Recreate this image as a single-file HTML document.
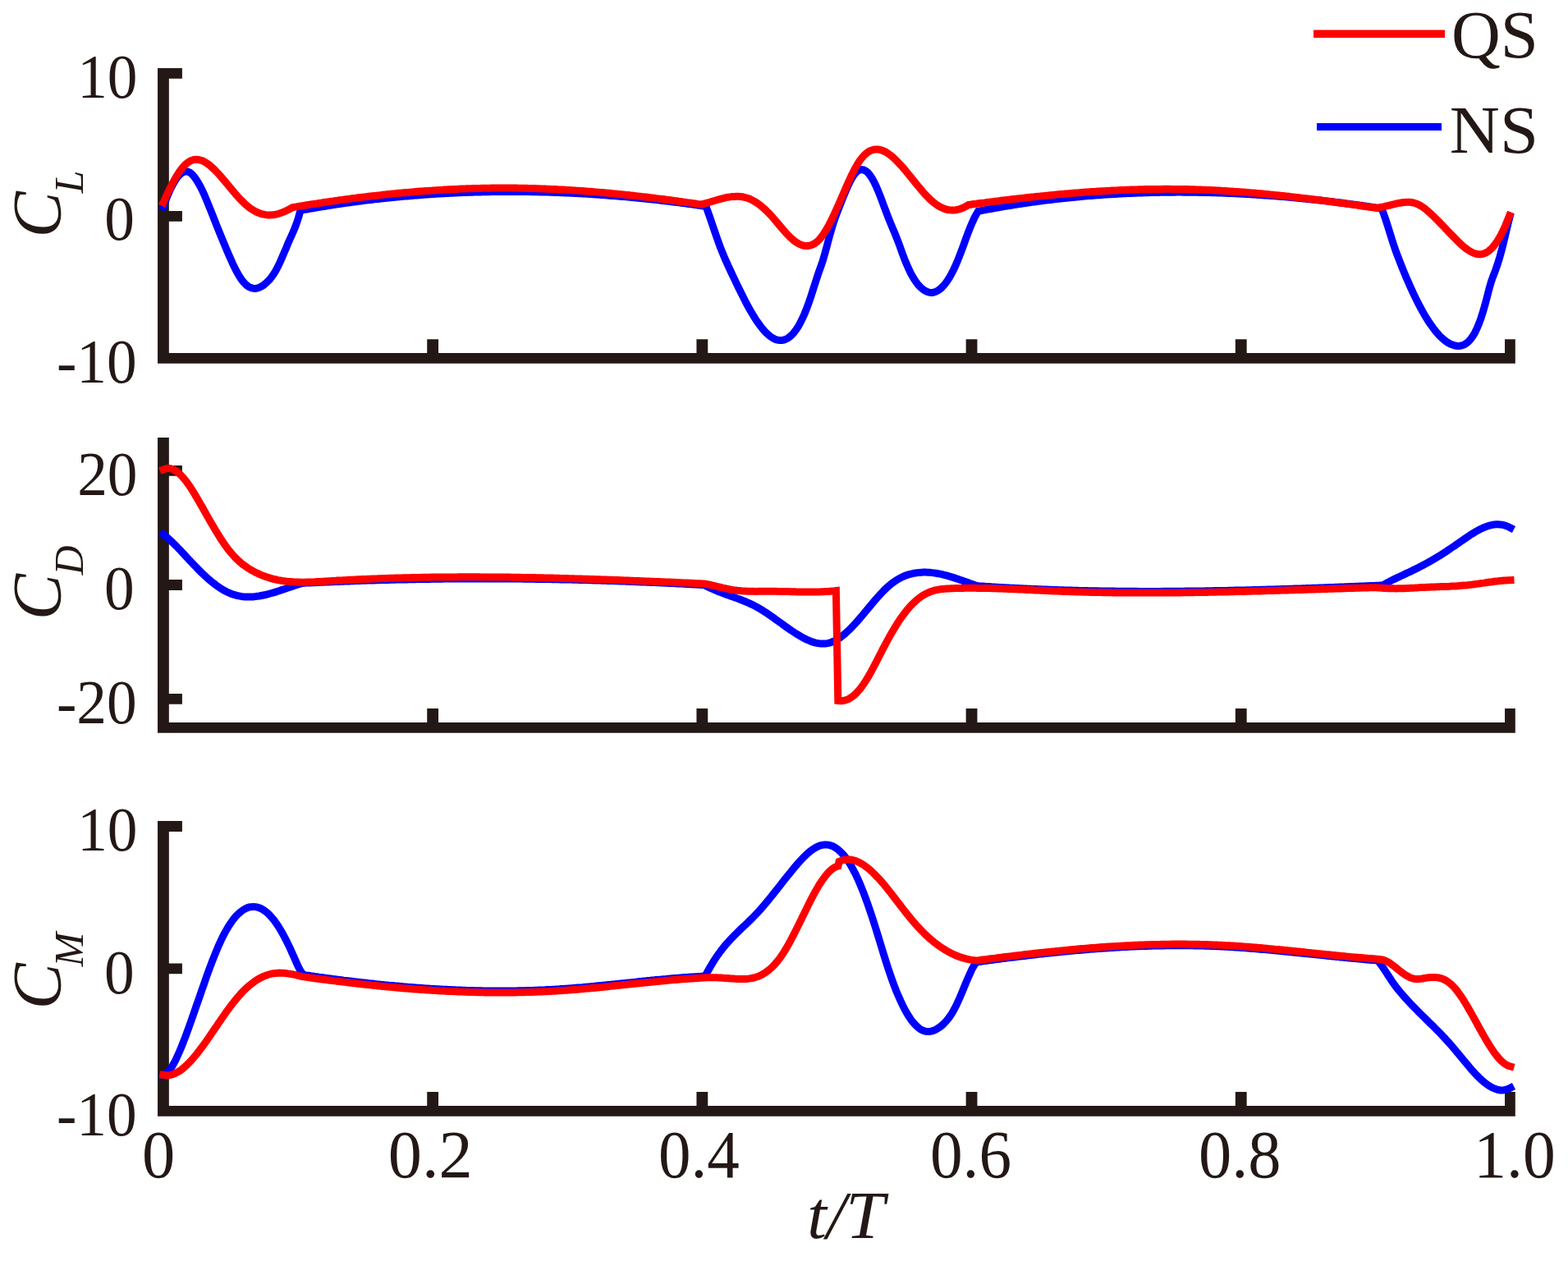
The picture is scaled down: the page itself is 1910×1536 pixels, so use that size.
<!DOCTYPE html>
<html lang="en"><head><meta charset="utf-8"><title>Force coefficients: QS vs NS</title>
<style>html,body{margin:0;padding:0;background:#fff}body{width:1910px;height:1536px;overflow:hidden}svg{display:block}text{font-family:"Liberation Serif","Times New Roman",serif;fill:#231815}.it{font-style:italic}.c{fill:none;stroke-width:9;stroke-linecap:square;stroke-linejoin:miter}</style>
</head><body>
<svg xmlns="http://www.w3.org/2000/svg" width="1910" height="1536" viewBox="0 0 1910 1536">
<rect width="1910" height="1536" fill="#fff"/>
<g>
<path d="M192.03 83H205.83V442.85H192.03ZM192.03 430.05H1845.8V442.85H192.03ZM198.93 83H221.9V95.8H198.93ZM198.93 257H221.9V269.8H198.93ZM520.23 413.15H534.03V436.45H520.23ZM848.44 413.15H862.24V436.45H848.44ZM1176.64 413.15H1190.44V436.45H1176.64ZM1504.85 413.15H1518.65V436.45H1504.85ZM1833.05 413.15H1845.8V436.45H1833.05Z" fill="#231815"/>
<path class="c" stroke="#0000ff" d="M199 251.8L201.5 245L204 238.7L206.5 232.9L209 227.6L211.5 223L214 218.9L216.4 215.5L218.9 212.7L221.4 210.7L223.9 209.4L226.4 208.8L228.9 209.1L231.4 210.2L233.9 212.2L236.4 215.1L238.9 218.6L241.4 222.6L243.9 227L246.4 231.9L248.9 237.3L251.3 243.1L253.8 249.2L256.3 255.4L258.8 261.7L261.3 268L263.8 274.3L266.3 280.5L268.8 286.7L271.3 292.8L273.8 298.8L276.3 304.8L278.8 310.6L281.3 316.2L283.7 321.7L286.2 326.8L288.7 331.6L291.2 335.9L293.7 339.8L296.2 343.1L298.7 345.9L301.2 348.1L303.7 349.7L306.2 350.7L308.7 351.3L311.2 351.4L313.7 351L316.1 350.1L318.6 348.9L321.1 347.3L323.6 345.2L326.1 342.9L328.6 340.2L331.1 337.1L333.6 333.5L336.1 329.4L338.6 324.6L341.1 319.3L343.6 313.7L346.1 307.8L348.6 301.9L351 296.1L353.5 290.5L356 285L358.5 279.2L361 272.8L363.5 265.3L366 256.3L368.5 255.8L371 255.4L373.5 255L376 254.5L378.5 254.1L381 253.7L383.5 253.2L386 252.8L388.5 252.4L390.9 252L393.4 251.6L395.9 251.2L398.4 250.8L400.9 250.4L403.4 250L405.9 249.6L408.4 249.2L410.9 248.9L413.4 248.5L415.9 248.1L418.4 247.8L420.9 247.4L423.4 247.1L425.9 246.7L428.4 246.4L430.9 246L433.4 245.7L435.9 245.4L438.4 245.1L440.8 244.7L443.3 244.4L445.8 244.1L448.3 243.8L450.8 243.5L453.3 243.2L455.8 242.9L458.3 242.6L460.8 242.4L463.3 242.1L465.8 241.8L468.3 241.5L470.8 241.3L473.3 241L475.8 240.8L478.3 240.5L480.8 240.3L483.3 240L485.8 239.8L488.3 239.6L490.7 239.3L493.2 239.1L495.7 238.9L498.2 238.7L500.7 238.5L503.2 238.2L505.7 238L508.2 237.9L510.7 237.7L513.2 237.5L515.7 237.3L518.2 237.1L520.7 236.9L523.2 236.8L525.7 236.6L528.2 236.4L530.7 236.3L533.2 236.1L535.7 236L538.2 235.8L540.6 235.7L543.1 235.5L545.6 235.4L548.1 235.3L550.6 235.2L553.1 235L555.6 234.9L558.1 234.8L560.6 234.7L563.1 234.6L565.6 234.5L568.1 234.4L570.6 234.3L573.1 234.3L575.6 234.2L578.1 234.1L580.6 234L583.1 234L585.6 233.9L588.1 233.8L590.5 233.8L593 233.7L595.5 233.7L598 233.6L600.5 233.6L603 233.6L605.5 233.5L608 233.5L610.5 233.5L613 233.5L615.5 233.5L618 233.5L620.5 233.4L623 233.4L625.5 233.4L628 233.5L630.5 233.5L633 233.5L635.5 233.5L637.9 233.5L640.4 233.6L642.9 233.6L645.4 233.6L647.9 233.7L650.4 233.7L652.9 233.8L655.4 233.8L657.9 233.9L660.4 233.9L662.9 234L665.4 234.1L667.9 234.1L670.4 234.2L672.9 234.3L675.4 234.4L677.9 234.5L680.4 234.6L682.9 234.7L685.4 234.8L687.8 234.9L690.3 235L692.8 235.1L695.3 235.2L697.8 235.3L700.3 235.4L702.8 235.6L705.3 235.7L707.8 235.8L710.3 236L712.8 236.1L715.3 236.3L717.8 236.4L720.3 236.6L722.8 236.7L725.3 236.9L727.8 237.1L730.3 237.3L732.8 237.4L735.3 237.6L737.7 237.8L740.2 238L742.7 238.2L745.2 238.4L747.7 238.6L750.2 238.8L752.7 239L755.2 239.2L757.7 239.4L760.2 239.6L762.7 239.8L765.2 240.1L767.7 240.3L770.2 240.5L772.7 240.8L775.2 241L777.7 241.2L780.2 241.5L782.7 241.7L785.2 242L787.6 242.3L790.1 242.5L792.6 242.8L795.1 243.1L797.6 243.3L800.1 243.6L802.6 243.9L805.1 244.2L807.6 244.5L810.1 244.8L812.6 245.1L815.1 245.4L817.6 245.7L820.1 246L822.6 246.3L825.1 246.6L827.6 246.9L830.1 247.2L832.6 247.6L835.1 247.9L837.5 248.2L840 248.6L842.5 248.9L845 249.3L847.5 249.6L850 250L852.5 250.3L855 250.7L857.5 251L860 251.4L862.5 258.4L865 265.6L867.5 272.9L870 280.2L872.5 287.5L875 294.5L877.4 301.1L879.9 307.4L882.4 313.4L884.9 319.1L887.4 324.6L889.9 330L892.4 335.3L894.9 340.6L897.4 345.9L899.9 351L902.4 356.1L904.9 361.1L907.4 366L909.8 370.7L912.3 375.2L914.8 379.6L917.3 383.8L919.8 387.9L922.3 391.7L924.8 395.2L927.3 398.5L929.8 401.6L932.3 404.4L934.8 406.8L937.3 409L939.8 410.8L942.3 412.3L944.7 413.5L947.2 414.2L949.7 414.6L952.2 414.6L954.7 414.1L957.2 413.2L959.7 411.9L962.2 410L964.7 407.8L967.2 405L969.7 401.7L972.2 397.9L974.7 393.5L977.1 388.6L979.6 383.1L982.1 377.1L984.6 370.4L987.1 363.2L989.6 355.5L992.1 347.6L994.6 339.8L997.1 332.3L999.6 325.4L1002.1 318.2L1004.6 309.6L1007.1 300.3L1009.5 291.2L1012 282.3L1014.5 273.7L1017 266L1019.5 259.4L1022 253.1L1024.5 246.7L1027 240.4L1029.5 234.2L1032 228.4L1034.5 223L1037 218.2L1039.5 214.1L1042 210.8L1044.4 208.5L1046.9 207L1049.4 206.5L1051.9 206.9L1054.4 208.1L1056.9 210.1L1059.4 213L1061.9 216.7L1064.4 221.1L1066.9 226.2L1069.4 231.9L1071.9 238.1L1074.4 244.6L1076.8 251.2L1079.3 257.8L1081.8 264.4L1084.3 270.7L1086.8 276.7L1089.3 282.6L1091.8 288.7L1094.3 295.1L1096.8 302.1L1099.3 309.1L1101.8 315.7L1104.3 321.7L1106.8 327.3L1109.2 332.4L1111.7 336.9L1114.2 341L1116.7 344.6L1119.2 347.7L1121.7 350.3L1124.2 352.5L1126.7 354.1L1129.2 355.4L1131.7 356.1L1134.2 356.4L1136.7 356.2L1139.2 355.5L1141.7 354.4L1144.1 352.8L1146.6 350.8L1149.1 348.3L1151.6 345.3L1154.1 341.8L1156.6 337.9L1159.1 333.4L1161.6 328.5L1164.1 323.1L1166.6 317.2L1169.1 310.9L1171.6 304.3L1174.1 297.6L1176.5 290.8L1179 284.2L1181.5 277.8L1184 271.8L1186.5 266.3L1189 261.4L1191.5 257.3L1194 256.8L1196.5 256.3L1199 255.9L1201.5 255.4L1204 254.9L1206.5 254.5L1209 254L1211.5 253.6L1214 253.1L1216.4 252.7L1218.9 252.2L1221.4 251.8L1223.9 251.4L1226.4 251L1228.9 250.6L1231.4 250.2L1233.9 249.8L1236.4 249.4L1238.9 249L1241.4 248.6L1243.9 248.2L1246.4 247.8L1248.9 247.5L1251.4 247.1L1253.9 246.8L1256.4 246.4L1258.9 246.1L1261.4 245.7L1263.9 245.4L1266.3 245L1268.8 244.7L1271.3 244.4L1273.8 244.1L1276.3 243.8L1278.8 243.5L1281.3 243.2L1283.8 242.9L1286.3 242.6L1288.8 242.3L1291.3 242L1293.8 241.7L1296.3 241.5L1298.8 241.2L1301.3 241L1303.8 240.7L1306.3 240.4L1308.8 240.2L1311.3 240L1313.8 239.7L1316.2 239.5L1318.7 239.3L1321.2 239.1L1323.7 238.8L1326.2 238.6L1328.7 238.4L1331.2 238.2L1333.7 238L1336.2 237.8L1338.7 237.7L1341.2 237.5L1343.7 237.3L1346.2 237.1L1348.7 237L1351.2 236.8L1353.7 236.7L1356.2 236.5L1358.7 236.4L1361.2 236.2L1363.6 236.1L1366.1 235.9L1368.6 235.8L1371.1 235.7L1373.6 235.6L1376.1 235.5L1378.6 235.4L1381.1 235.3L1383.6 235.2L1386.1 235.1L1388.6 235L1391.1 234.9L1393.6 234.8L1396.1 234.7L1398.6 234.7L1401.1 234.6L1403.6 234.5L1406.1 234.5L1408.6 234.4L1411.1 234.4L1413.5 234.3L1416 234.3L1418.5 234.3L1421 234.2L1423.5 234.2L1426 234.2L1428.5 234.2L1431 234.2L1433.5 234.1L1436 234.1L1438.5 234.1L1441 234.2L1443.5 234.2L1446 234.2L1448.5 234.2L1451 234.2L1453.5 234.2L1456 234.3L1458.5 234.3L1461 234.4L1463.4 234.4L1465.9 234.5L1468.4 234.5L1470.9 234.6L1473.4 234.6L1475.9 234.7L1478.4 234.8L1480.9 234.8L1483.4 234.9L1485.9 235L1488.4 235.1L1490.9 235.2L1493.4 235.3L1495.9 235.4L1498.4 235.5L1500.9 235.6L1503.4 235.7L1505.9 235.8L1508.4 235.9L1510.9 236.1L1513.3 236.2L1515.8 236.3L1518.3 236.5L1520.8 236.6L1523.3 236.8L1525.8 236.9L1528.3 237.1L1530.8 237.2L1533.3 237.4L1535.8 237.5L1538.3 237.7L1540.8 237.9L1543.3 238.1L1545.8 238.3L1548.3 238.4L1550.8 238.6L1553.3 238.8L1555.8 239L1558.3 239.2L1560.7 239.4L1563.2 239.6L1565.7 239.8L1568.2 240.1L1570.7 240.3L1573.2 240.5L1575.7 240.7L1578.2 241L1580.7 241.2L1583.2 241.4L1585.7 241.7L1588.2 241.9L1590.7 242.2L1593.2 242.4L1595.7 242.7L1598.2 243L1600.7 243.2L1603.2 243.5L1605.7 243.8L1608.2 244L1610.6 244.3L1613.1 244.6L1615.6 244.9L1618.1 245.2L1620.6 245.5L1623.1 245.8L1625.6 246.1L1628.1 246.4L1630.6 246.7L1633.1 247L1635.6 247.3L1638.1 247.6L1640.6 248L1643.1 248.3L1645.6 248.6L1648.1 249L1650.6 249.3L1653.1 249.6L1655.6 250L1658.1 250.3L1660.5 250.7L1663 251L1665.5 251.4L1668 251.8L1670.5 252.1L1673 252.5L1675.5 252.9L1678 253.2L1680.5 253.6L1683 254L1685.5 260.5L1688 267.8L1690.6 275.8L1693.1 283.9L1695.6 292L1698.1 299.7L1700.6 306.9L1703.2 313.7L1705.7 320.2L1708.2 326.5L1710.7 332.6L1713.2 338.6L1715.8 344.4L1718.3 350.1L1720.8 355.6L1723.3 360.9L1725.8 366L1728.3 371L1730.9 375.7L1733.4 380.3L1735.9 384.7L1738.4 388.8L1740.9 392.7L1743.5 396.4L1746 399.9L1748.5 403.1L1751 406.1L1753.5 408.9L1756.1 411.4L1758.6 413.6L1761.1 415.6L1763.6 417.3L1766.1 418.7L1768.7 419.8L1771.2 420.6L1773.7 421.2L1776.2 421.4L1778.7 421.2L1781.3 420.7L1783.8 419.7L1786.3 418.1L1788.8 416L1791.3 413.2L1793.9 409.7L1796.4 405.5L1798.9 400.4L1801.4 394.5L1803.9 387.7L1806.4 379.9L1809 371.1L1811.5 361.3L1814 351.6L1816.5 343L1819 336L1821.6 329.3L1824.1 322L1826.6 314L1829.1 305L1831.6 295.1L1834.2 284.2L1836.7 273.4L1839.2 263.8"/>
<path class="c" stroke="#ff0000" d="M199 246.8L201.5 241.2L204 235.7L206.5 230.5L209 225.5L211.5 220.8L214 216.4L216.5 212.3L218.9 208.6L221.4 205.3L223.9 202.4L226.4 199.9L228.9 197.9L231.4 196.3L233.9 195.2L236.4 194.5L238.9 194.3L241.4 194.4L243.9 195L246.4 195.8L248.9 197L251.4 198.5L253.9 200.2L256.4 202.2L258.8 204.4L261.3 206.8L263.8 209.3L266.3 212L268.8 214.8L271.3 217.7L273.8 220.7L276.3 223.7L278.8 226.7L281.3 229.7L283.8 232.7L286.3 235.6L288.8 238.5L291.3 241.2L293.8 243.8L296.3 246.3L298.7 248.7L301.2 250.8L303.7 252.8L306.2 254.6L308.7 256.2L311.2 257.6L313.7 258.8L316.2 259.8L318.7 260.6L321.2 261.2L323.7 261.6L326.2 261.9L328.7 261.9L331.2 261.8L333.7 261.5L336.2 261.1L338.6 260.5L341.1 259.8L343.6 258.9L346.1 257.9L348.6 256.8L351.1 255.5L353.6 254.2L356.1 252.7L358.6 252.3L361.1 251.9L363.6 251.4L366.1 251L368.6 250.6L371.1 250.2L373.6 249.8L376.1 249.4L378.6 249L381.1 248.6L383.6 248.2L386.1 247.9L388.7 247.5L391.2 247.1L393.7 246.7L396.2 246.3L398.7 246L401.2 245.6L403.7 245.2L406.2 244.9L408.7 244.5L411.2 244.2L413.7 243.8L416.2 243.5L418.7 243.1L421.2 242.8L423.7 242.5L426.2 242.1L428.7 241.8L431.2 241.5L433.7 241.2L436.2 240.8L438.7 240.5L441.2 240.2L443.7 239.9L446.2 239.6L448.7 239.3L451.3 239L453.8 238.7L456.3 238.4L458.8 238.2L461.3 237.9L463.8 237.6L466.3 237.3L468.8 237.1L471.3 236.8L473.8 236.5L476.3 236.3L478.8 236L481.3 235.8L483.8 235.5L486.3 235.3L488.8 235.1L491.3 234.8L493.8 234.6L496.3 234.4L498.8 234.2L501.3 234L503.8 233.8L506.3 233.5L508.8 233.3L511.3 233.1L513.9 233L516.4 232.8L518.9 232.6L521.4 232.4L523.9 232.2L526.4 232.1L528.9 231.9L531.4 231.7L533.9 231.6L536.4 231.4L538.9 231.3L541.4 231.1L543.9 231L546.4 230.8L548.9 230.7L551.4 230.6L553.9 230.5L556.4 230.4L558.9 230.2L561.4 230.1L563.9 230L566.4 229.9L568.9 229.8L571.4 229.8L573.9 229.7L576.5 229.6L579 229.5L581.5 229.5L584 229.4L586.5 229.3L589 229.3L591.5 229.2L594 229.2L596.5 229.2L599 229.1L601.5 229.1L604 229.1L606.5 229.1L609 229L611.5 229L614 229L616.5 229L619 229L621.5 229.1L624 229.1L626.5 229.1L629 229.1L631.5 229.2L634 229.2L636.6 229.2L639.1 229.3L641.6 229.3L644.1 229.4L646.6 229.5L649.1 229.5L651.6 229.6L654.1 229.7L656.6 229.8L659.1 229.9L661.6 230L664.1 230.1L666.6 230.2L669.1 230.3L671.6 230.4L674.1 230.5L676.6 230.6L679.1 230.7L681.6 230.9L684.1 231L686.6 231.1L689.1 231.3L691.6 231.4L694.1 231.6L696.6 231.7L699.2 231.9L701.7 232.1L704.2 232.2L706.7 232.4L709.2 232.6L711.7 232.8L714.2 233L716.7 233.2L719.2 233.3L721.7 233.5L724.2 233.8L726.7 234L729.2 234.2L731.7 234.4L734.2 234.6L736.7 234.8L739.2 235.1L741.7 235.3L744.2 235.5L746.7 235.8L749.2 236L751.7 236.2L754.2 236.5L756.7 236.7L759.2 237L761.8 237.3L764.3 237.5L766.8 237.8L769.3 238.1L771.8 238.3L774.3 238.6L776.8 238.9L779.3 239.2L781.8 239.5L784.3 239.7L786.8 240L789.3 240.3L791.8 240.6L794.3 240.9L796.8 241.2L799.3 241.6L801.8 241.9L804.3 242.2L806.8 242.5L809.3 242.8L811.8 243.2L814.3 243.5L816.8 243.8L819.3 244.1L821.8 244.5L824.4 244.8L826.9 245.2L829.4 245.5L831.9 245.9L834.4 246.2L836.9 246.6L839.4 246.9L841.9 247.3L844.4 247.6L846.9 248L849.4 248.4L851.9 248.7L854.4 249.1L856.9 248.4L859.4 247.7L861.9 247L864.4 246.3L866.9 245.5L869.4 244.7L871.9 244L874.4 243.2L876.9 242.5L879.4 241.9L881.9 241.3L884.4 240.7L886.9 240.2L889.4 239.9L891.9 239.6L894.4 239.4L896.9 239.3L899.4 239.3L901.9 239.5L904.4 239.8L906.9 240.3L909.4 241L911.9 241.8L914.4 242.8L916.9 244.1L919.4 245.5L921.9 247.1L924.4 248.8L926.9 250.8L929.4 252.9L931.9 255.1L934.4 257.6L937 260.1L939.5 262.8L942 265.6L944.5 268.6L947 271.5L949.5 274.5L952 277.5L954.5 280.4L957 283.3L959.5 286L962 288.5L964.5 290.8L967 293L969.5 294.8L972 296.4L974.5 297.7L977 298.6L979.5 299.3L982 299.6L984.5 299.5L987 299L989.5 298.1L992 296.8L994.5 295L997 292.7L999.5 290L1002 286.7L1004.5 283L1007 278.9L1009.5 274.4L1012 269.6L1014.5 264.5L1017 259.2L1019.5 253.7L1022 248.1L1024.5 242.3L1027 236.5L1029.5 230.8L1032 225.1L1034.5 219.6L1037 214.2L1039.5 209.1L1042 204.4L1044.5 200L1047 196.1L1049.5 192.7L1052 189.8L1054.5 187.4L1057 185.4L1059.5 183.9L1062 182.9L1064.5 182.2L1067 181.9L1069.5 182L1072 182.4L1074.5 183.2L1077 184.2L1079.5 185.5L1082 187.1L1084.5 189L1087 191L1089.5 193.3L1092 195.7L1094.5 198.3L1097 201L1099.6 203.8L1102.1 206.7L1104.6 209.8L1107.1 212.8L1109.6 215.9L1112.1 219L1114.6 222.1L1117.1 225.2L1119.6 228.2L1122.1 231.2L1124.6 234.1L1127.1 236.9L1129.6 239.5L1132.1 242L1134.6 244.4L1137.1 246.5L1139.6 248.5L1142.1 250.2L1144.6 251.7L1147.1 253L1149.6 254L1152.1 254.9L1154.6 255.5L1157.1 255.8L1159.6 256L1162.1 255.9L1164.6 255.7L1167.1 255.2L1169.6 254.5L1172.1 253.5L1174.6 252.4L1177.1 251.1L1179.6 249.5L1182.1 249.2L1184.6 248.8L1187.1 248.5L1189.6 248.2L1192.1 247.8L1194.6 247.5L1197.1 247.2L1199.6 246.9L1202.1 246.5L1204.6 246.2L1207.1 245.9L1209.6 245.6L1212.1 245.3L1214.6 245L1217.1 244.7L1219.6 244.3L1222.2 244L1224.7 243.7L1227.2 243.4L1229.7 243.1L1232.2 242.8L1234.7 242.6L1237.2 242.3L1239.7 242L1242.2 241.7L1244.7 241.4L1247.2 241.1L1249.7 240.8L1252.2 240.6L1254.7 240.3L1257.2 240L1259.7 239.8L1262.2 239.5L1264.7 239.2L1267.2 239L1269.7 238.7L1272.2 238.5L1274.7 238.2L1277.2 238L1279.7 237.7L1282.2 237.5L1284.7 237.3L1287.2 237L1289.7 236.8L1292.2 236.6L1294.7 236.4L1297.2 236.1L1299.7 235.9L1302.2 235.7L1304.8 235.5L1307.3 235.3L1309.8 235.1L1312.3 234.9L1314.8 234.7L1317.3 234.5L1319.8 234.3L1322.3 234.1L1324.8 234L1327.3 233.8L1329.8 233.6L1332.3 233.4L1334.8 233.3L1337.3 233.1L1339.8 233L1342.3 232.8L1344.8 232.7L1347.3 232.5L1349.8 232.4L1352.3 232.2L1354.8 232.1L1357.3 232L1359.8 231.9L1362.3 231.7L1364.8 231.6L1367.3 231.5L1369.8 231.4L1372.3 231.3L1374.8 231.2L1377.3 231.1L1379.8 231L1382.3 231L1384.8 230.9L1387.4 230.8L1389.9 230.8L1392.4 230.7L1394.9 230.6L1397.4 230.6L1399.9 230.5L1402.4 230.5L1404.9 230.5L1407.4 230.4L1409.9 230.4L1412.4 230.4L1414.9 230.4L1417.4 230.3L1419.9 230.3L1422.4 230.3L1424.9 230.3L1427.4 230.4L1429.9 230.4L1432.4 230.4L1434.9 230.4L1437.4 230.4L1439.9 230.5L1442.4 230.5L1444.9 230.6L1447.4 230.6L1449.9 230.7L1452.4 230.8L1454.9 230.8L1457.4 230.9L1459.9 231L1462.4 231.1L1464.9 231.2L1467.4 231.3L1470 231.4L1472.5 231.5L1475 231.6L1477.5 231.7L1480 231.8L1482.5 232L1485 232.1L1487.5 232.2L1490 232.4L1492.5 232.5L1495 232.7L1497.5 232.9L1500 233L1502.5 233.2L1505 233.4L1507.5 233.5L1510 233.7L1512.5 233.9L1515 234.1L1517.5 234.3L1520 234.5L1522.5 234.7L1525 234.9L1527.5 235.1L1530 235.3L1532.5 235.6L1535 235.8L1537.5 236L1540 236.3L1542.5 236.5L1545 236.7L1547.5 237L1550 237.2L1552.6 237.5L1555.1 237.7L1557.6 238L1560.1 238.3L1562.6 238.5L1565.1 238.8L1567.6 239.1L1570.1 239.3L1572.6 239.6L1575.1 239.9L1577.6 240.2L1580.1 240.5L1582.6 240.8L1585.1 241.1L1587.6 241.4L1590.1 241.7L1592.6 242L1595.1 242.3L1597.6 242.6L1600.1 242.9L1602.6 243.2L1605.1 243.5L1607.6 243.8L1610.1 244.2L1612.6 244.5L1615.1 244.8L1617.6 245.1L1620.1 245.5L1622.6 245.8L1625.1 246.1L1627.6 246.5L1630.1 246.8L1632.6 247.2L1635.2 247.5L1637.7 247.8L1640.2 248.2L1642.7 248.5L1645.2 248.9L1647.7 249.2L1650.2 249.6L1652.7 249.9L1655.2 250.3L1657.7 250.7L1660.2 251L1662.7 251.4L1665.2 251.7L1667.7 252.1L1670.2 252.5L1672.7 252.8L1675.2 253.2L1677.7 253L1680.2 252.7L1682.7 252.3L1685.3 251.8L1687.8 251.2L1690.3 250.7L1692.8 250L1695.3 249.4L1697.8 248.8L1700.3 248.2L1702.9 247.7L1705.4 247.2L1707.9 246.8L1710.4 246.4L1712.9 246.2L1715.4 246.2L1717.9 246.3L1720.5 246.7L1723 247.3L1725.5 248.1L1728 249.3L1730.5 250.7L1733 252.3L1735.6 254.1L1738.1 256.1L1740.6 258.3L1743.1 260.6L1745.6 262.9L1748.1 265.4L1750.6 267.9L1753.2 270.5L1755.7 273.1L1758.2 275.7L1760.7 278.3L1763.2 281L1765.7 283.6L1768.2 286.2L1770.8 288.8L1773.3 291.4L1775.8 293.9L1778.3 296.3L1780.8 298.6L1783.3 300.8L1785.8 302.8L1788.4 304.6L1790.9 306.2L1793.4 307.5L1795.9 308.6L1798.4 309.3L1800.9 309.7L1803.4 309.7L1806 309.4L1808.5 308.6L1811 307.4L1813.5 305.7L1816 303.5L1818.5 300.9L1821 297.8L1823.6 294.2L1826.1 290.1L1828.6 285.6L1831.1 280.6L1833.6 275.1L1836.1 269.1L1838.7 262.6"/>
<text transform="translate(94.15 118.7) scale(0.96 1)" font-size="76.4">10</text>
<text transform="translate(127.32 291.6) scale(0.96 1)" font-size="76.4">0</text>
<text transform="translate(68.93 465.8) scale(0.96 1)" font-size="76.4">-10</text>
<text class="it" transform="translate(74.2 289.4) rotate(-90)" font-size="84.3">C</text>
<text class="it" transform="translate(101.2 235.5) rotate(-90)" font-size="50">L</text>
</g>
<g>
<path d="M192.03 532.9H205.83V892.8H192.03ZM192.03 880H1845.8V892.8H192.03ZM198.93 566.95H221.9V579.75H198.93ZM198.93 706.1H221.9V718.9H198.93ZM198.93 845H221.9V857.8H198.93ZM520.23 863.1H534.03V886.4H520.23ZM848.44 863.1H862.24V886.4H848.44ZM1176.64 863.1H1190.44V886.4H1176.64ZM1504.85 863.1H1518.65V886.4H1504.85ZM1833.05 863.1H1845.8V886.4H1833.05Z" fill="#231815"/>
<path class="c" stroke="#0000ff" d="M199 651L201.5 653L204 655.1L206.5 657.3L208.9 659.6L211.4 662L213.9 664.4L216.4 667L218.9 669.5L221.4 672.2L223.9 674.8L226.3 677.5L228.8 680.2L231.3 682.8L233.8 685.5L236.3 688.1L238.8 690.7L241.2 693.3L243.7 695.8L246.2 698.2L248.7 700.6L251.2 702.9L253.7 705.1L256.2 707.2L258.6 709.3L261.1 711.2L263.6 713.1L266.1 714.9L268.6 716.5L271.1 718.1L273.6 719.5L276 720.8L278.5 722L281 723L283.5 723.9L286 724.7L288.5 725.4L291 725.9L293.4 726.4L295.9 726.7L298.4 726.9L300.9 727L303.4 727.1L305.9 727L308.4 726.9L310.8 726.6L313.3 726.3L315.8 726L318.3 725.5L320.8 725L323.3 724.5L325.8 723.9L328.2 723.2L330.7 722.5L333.2 721.8L335.7 721.1L338.2 720.3L340.7 719.5L343.1 718.6L345.6 717.8L348.1 716.9L350.6 716.1L353.1 715.2L355.6 714.4L358.1 713.5L360.5 712.7L363 711.9L365.5 711.1L368 710.4L370.5 710.3L373 710.1L375.5 710L378 709.9L380.5 709.8L383 709.7L385.5 709.5L388 709.4L390.5 709.3L393 709.2L395.5 709.1L398 709L400.5 708.9L403 708.8L405.5 708.7L408 708.6L410.5 708.5L413 708.4L415.5 708.3L418 708.2L420.5 708.1L423 708L425.5 707.9L428 707.8L430.5 707.7L433 707.6L435.5 707.5L438 707.4L440.5 707.3L443 707.3L445.5 707.2L448 707.1L450.5 707L453 706.9L455.5 706.9L458 706.8L460.5 706.7L463 706.6L465.5 706.6L468 706.5L470.5 706.4L473 706.4L475.5 706.3L478 706.3L480.5 706.2L483 706.1L485.5 706.1L488 706L490.5 706L493 705.9L495.5 705.9L498 705.8L500.5 705.7L503 705.7L505.5 705.7L508 705.6L510.5 705.6L513 705.5L515.5 705.5L518 705.4L520.5 705.4L523 705.4L525.5 705.3L528 705.3L530.5 705.3L533 705.2L535.5 705.2L538 705.2L540.5 705.1L543 705.1L545.5 705.1L548 705.1L550.5 705L553 705L555.5 705L558 705L560.5 705L563 705L565.5 704.9L568 704.9L570.5 704.9L573 704.9L575.5 704.9L578 704.9L580.5 704.9L583 704.9L585.5 704.9L588 704.9L590.5 704.9L593 704.9L595.5 704.9L598 704.9L600.5 704.9L603 704.9L605.5 704.9L608 704.9L610.5 704.9L613 705L615.5 705L618 705L620.5 705L623 705L625.5 705L628 705.1L630.5 705.1L633 705.1L635.5 705.1L638 705.2L640.5 705.2L643 705.2L645.5 705.3L648 705.3L650.5 705.3L653 705.4L655.5 705.4L658 705.4L660.5 705.5L663 705.5L665.5 705.5L668 705.6L670.5 705.6L673 705.7L675.5 705.7L678 705.8L680.5 705.8L683 705.9L685.5 705.9L688 706L690.5 706L693 706.1L695.5 706.1L698 706.2L700.5 706.3L703 706.3L705.5 706.4L708 706.4L710.5 706.5L713 706.6L715.5 706.6L718 706.7L720.5 706.8L723 706.9L725.5 706.9L728 707L730.5 707.1L733 707.2L735.5 707.2L738 707.3L740.5 707.4L743 707.5L745.5 707.6L748 707.6L750.5 707.7L753 707.8L755.5 707.9L758 708L760.5 708.1L763 708.2L765.5 708.3L768 708.4L770.5 708.5L773 708.6L775.5 708.7L778 708.8L780.5 708.9L783 709L785.5 709.1L788 709.2L790.5 709.3L793 709.4L795.5 709.5L798 709.6L800.5 709.7L803 709.8L805.5 709.9L808 710L810.5 710.2L813 710.3L815.5 710.4L818 710.5L820.5 710.6L823 710.8L825.5 710.9L828 711L830.5 711.1L833 711.3L835.5 711.4L838 711.5L840.5 711.7L843 711.8L845.5 711.9L848 712L850.5 712.2L853 712.3L855.5 712.5L858 712.6L860.5 713.9L863 715.2L865.5 716.4L868 717.5L870.5 718.6L873 719.7L875.5 720.7L878 721.6L880.5 722.6L883 723.5L885.5 724.4L888 725.3L890.5 726.2L892.9 727.1L895.4 727.9L897.9 728.9L900.4 729.8L902.9 730.7L905.4 731.7L907.9 732.7L910.4 733.8L912.9 734.9L915.4 736.1L917.9 737.3L920.4 738.6L922.9 740L925.4 741.4L927.9 742.9L930.4 744.5L932.9 746.1L935.4 747.8L937.9 749.5L940.4 751.2L942.9 753L945.4 754.8L947.9 756.6L950.4 758.4L952.9 760.2L955.4 762L957.8 763.8L960.3 765.5L962.8 767.2L965.3 768.9L967.8 770.6L970.3 772.2L972.8 773.7L975.3 775.2L977.8 776.6L980.3 777.9L982.8 779.1L985.3 780.2L987.8 781.2L990.3 782.1L992.8 782.8L995.3 783.4L997.8 783.8L1000.3 784L1002.8 784.1L1005.3 784L1007.8 783.6L1010.3 783.1L1012.8 782.3L1015.3 781.3L1017.8 780.1L1020.3 778.6L1022.8 777L1025.2 775.2L1027.7 773.2L1030.2 771.1L1032.7 768.8L1035.2 766.4L1037.7 763.9L1040.2 761.2L1042.7 758.5L1045.2 755.7L1047.7 752.8L1050.2 749.9L1052.7 746.9L1055.2 743.9L1057.7 740.9L1060.2 737.9L1062.7 734.9L1065.2 731.9L1067.7 729L1070.2 726.2L1072.7 723.5L1075.2 720.8L1077.7 718.3L1080.2 715.9L1082.7 713.7L1085.2 711.6L1087.7 709.7L1090.2 707.9L1092.6 706.3L1095.1 704.9L1097.6 703.5L1100.1 702.4L1102.6 701.3L1105.1 700.4L1107.6 699.7L1110.1 699L1112.6 698.4L1115.1 698L1117.6 697.6L1120.1 697.4L1122.6 697.2L1125.1 697.1L1127.6 697.1L1130.1 697.2L1132.6 697.3L1135.1 697.6L1137.6 697.9L1140.1 698.3L1142.6 698.7L1145.1 699.2L1147.6 699.7L1150.1 700.3L1152.6 700.9L1155.1 701.6L1157.5 702.4L1160 703.1L1162.5 703.9L1165 704.7L1167.5 705.6L1170 706.4L1172.5 707.3L1175 708.2L1177.5 709.1L1180 710L1182.5 710.9L1185 711.8L1187.5 712.7L1190 713.6L1192.5 713.8L1195 713.9L1197.5 714.1L1200 714.3L1202.5 714.4L1205 714.6L1207.5 714.8L1210 714.9L1212.5 715.1L1214.9 715.2L1217.4 715.4L1219.9 715.5L1222.4 715.7L1224.9 715.8L1227.4 715.9L1229.9 716.1L1232.4 716.2L1234.9 716.3L1237.4 716.5L1239.9 716.6L1242.4 716.7L1244.9 716.8L1247.4 717L1249.9 717.1L1252.4 717.2L1254.9 717.3L1257.4 717.4L1259.9 717.5L1262.4 717.6L1264.8 717.7L1267.3 717.8L1269.8 717.9L1272.3 718L1274.8 718.1L1277.3 718.2L1279.8 718.3L1282.3 718.4L1284.8 718.5L1287.3 718.6L1289.8 718.7L1292.3 718.7L1294.8 718.8L1297.3 718.9L1299.8 719L1302.3 719L1304.8 719.1L1307.3 719.2L1309.8 719.2L1312.3 719.3L1314.7 719.4L1317.2 719.4L1319.7 719.5L1322.2 719.5L1324.7 719.6L1327.2 719.7L1329.7 719.7L1332.2 719.8L1334.7 719.8L1337.2 719.8L1339.7 719.9L1342.2 719.9L1344.7 720L1347.2 720L1349.7 720L1352.2 720.1L1354.7 720.1L1357.2 720.1L1359.7 720.2L1362.2 720.2L1364.6 720.2L1367.1 720.2L1369.6 720.3L1372.1 720.3L1374.6 720.3L1377.1 720.3L1379.6 720.3L1382.1 720.3L1384.6 720.3L1387.1 720.4L1389.6 720.4L1392.1 720.4L1394.6 720.4L1397.1 720.4L1399.6 720.4L1402.1 720.4L1404.6 720.4L1407.1 720.4L1409.6 720.4L1412.1 720.4L1414.5 720.4L1417 720.3L1419.5 720.3L1422 720.3L1424.5 720.3L1427 720.3L1429.5 720.3L1432 720.3L1434.5 720.2L1437 720.2L1439.5 720.2L1442 720.2L1444.5 720.1L1447 720.1L1449.5 720.1L1452 720.1L1454.5 720L1457 720L1459.5 720L1461.9 719.9L1464.4 719.9L1466.9 719.9L1469.4 719.8L1471.9 719.8L1474.4 719.7L1476.9 719.7L1479.4 719.6L1481.9 719.6L1484.4 719.6L1486.9 719.5L1489.4 719.5L1491.9 719.4L1494.4 719.4L1496.9 719.3L1499.4 719.3L1501.9 719.2L1504.4 719.1L1506.9 719.1L1509.4 719L1511.8 719L1514.3 718.9L1516.8 718.9L1519.3 718.8L1521.8 718.7L1524.3 718.7L1526.8 718.6L1529.3 718.5L1531.8 718.5L1534.3 718.4L1536.8 718.3L1539.3 718.3L1541.8 718.2L1544.3 718.1L1546.8 718L1549.3 718L1551.8 717.9L1554.3 717.8L1556.8 717.7L1559.3 717.7L1561.7 717.6L1564.2 717.5L1566.7 717.4L1569.2 717.4L1571.7 717.3L1574.2 717.2L1576.7 717.1L1579.2 717L1581.7 716.9L1584.2 716.9L1586.7 716.8L1589.2 716.7L1591.7 716.6L1594.2 716.5L1596.7 716.4L1599.2 716.3L1601.7 716.2L1604.2 716.2L1606.7 716.1L1609.2 716L1611.6 715.9L1614.1 715.8L1616.6 715.7L1619.1 715.6L1621.6 715.5L1624.1 715.4L1626.6 715.3L1629.1 715.2L1631.6 715.1L1634.1 715L1636.6 714.9L1639.1 714.8L1641.6 714.7L1644.1 714.6L1646.6 714.5L1649.1 714.4L1651.6 714.3L1654.1 714.2L1656.6 714.1L1659.1 714L1661.5 713.9L1664 713.8L1666.5 713.7L1669 713.6L1671.5 713.5L1674 713.4L1676.5 713.3L1679 713.2L1681.5 713.1L1684 713L1686.5 711.6L1689 710.2L1691.5 708.9L1694.1 707.6L1696.6 706.3L1699.1 705.1L1701.6 703.9L1704.1 702.7L1706.6 701.5L1709.2 700.3L1711.7 699.1L1714.2 697.9L1716.7 696.8L1719.2 695.6L1721.7 694.3L1724.3 693.1L1726.8 691.9L1729.3 690.6L1731.8 689.3L1734.3 688L1736.8 686.6L1739.4 685.2L1741.9 683.8L1744.4 682.4L1746.9 680.9L1749.4 679.4L1751.9 677.9L1754.5 676.3L1757 674.7L1759.5 673.1L1762 671.5L1764.5 669.8L1767 668.1L1769.5 666.4L1772.1 664.7L1774.6 662.9L1777.1 661.2L1779.6 659.4L1782.1 657.7L1784.6 656L1787.2 654.2L1789.7 652.6L1792.2 650.9L1794.7 649.4L1797.2 647.8L1799.7 646.4L1802.3 645.1L1804.8 643.8L1807.3 642.7L1809.8 641.6L1812.3 640.8L1814.8 640L1817.4 639.4L1819.9 639L1822.4 638.8L1824.9 638.7L1827.4 638.9L1829.9 639.2L1832.5 639.8L1835 640.6L1837.5 641.7L1840 643"/>
<path class="c" stroke="#ff0000" d="M199 572L201.5 571L204 570.5L206.5 570.6L209 571.1L211.5 572.1L214 573.5L216.5 575.3L219 577.5L221.5 580L224 582.8L226.5 585.9L229 589.3L231.5 592.9L233.9 596.7L236.4 600.7L238.9 604.9L241.4 609.1L243.9 613.4L246.4 617.8L248.9 622.3L251.4 626.7L253.9 631.1L256.4 635.5L258.9 639.8L261.4 644L263.9 648.2L266.4 652.2L268.9 656.2L271.4 660L273.9 663.6L276.4 667.1L278.9 670.4L281.4 673.4L283.9 676.3L286.4 679L288.9 681.4L291.4 683.8L293.9 685.9L296.4 687.9L298.8 689.7L301.3 691.5L303.8 693L306.3 694.5L308.8 695.9L311.3 697.2L313.8 698.4L316.3 699.6L318.8 700.6L321.3 701.6L323.8 702.5L326.3 703.3L328.8 704.1L331.3 704.8L333.8 705.5L336.3 706L338.8 706.6L341.3 707L343.8 707.5L346.3 707.8L348.8 708.1L351.3 708.4L353.8 708.6L356.3 708.8L358.8 709L361.3 709.1L363.8 709.1L366.2 709.2L368.7 709.2L371.2 709.2L373.7 709.1L376.2 709.1L378.7 709L381.2 708.9L383.7 708.8L386.2 708.6L388.7 708.5L391.2 708.4L393.7 708.2L396.2 708L398.7 707.9L401.2 707.7L403.7 707.6L406.2 707.4L408.7 707.3L411.2 707.1L413.7 707L416.2 706.9L418.7 706.7L421.2 706.6L423.7 706.4L426.2 706.3L428.7 706.2L431.1 706.1L433.6 705.9L436.1 705.8L438.6 705.7L441.1 705.6L443.6 705.5L446.1 705.4L448.6 705.3L451.1 705.2L453.6 705.1L456.1 705L458.6 704.9L461.1 704.8L463.6 704.7L466.1 704.6L468.6 704.5L471.1 704.4L473.6 704.3L476.1 704.3L478.6 704.2L481.1 704.1L483.6 704L486.1 704L488.6 703.9L491.1 703.8L493.6 703.8L496 703.7L498.5 703.7L501 703.6L503.5 703.5L506 703.5L508.5 703.4L511 703.4L513.5 703.3L516 703.3L518.5 703.3L521 703.2L523.5 703.2L526 703.1L528.5 703.1L531 703.1L533.5 703L536 703L538.5 703L541 703L543.5 702.9L546 702.9L548.5 702.9L551 702.9L553.5 702.9L556 702.9L558.5 702.8L561 702.8L563.4 702.8L565.9 702.8L568.4 702.8L570.9 702.8L573.4 702.8L575.9 702.8L578.4 702.8L580.9 702.8L583.4 702.8L585.9 702.9L588.4 702.9L590.9 702.9L593.4 702.9L595.9 702.9L598.4 702.9L600.9 702.9L603.4 703L605.9 703L608.4 703L610.9 703L613.4 703.1L615.9 703.1L618.4 703.1L620.9 703.1L623.4 703.2L625.9 703.2L628.3 703.3L630.8 703.3L633.3 703.3L635.8 703.4L638.3 703.4L640.8 703.5L643.3 703.5L645.8 703.5L648.3 703.6L650.8 703.6L653.3 703.7L655.8 703.7L658.3 703.8L660.8 703.8L663.3 703.9L665.8 704L668.3 704L670.8 704.1L673.3 704.1L675.8 704.2L678.3 704.3L680.8 704.3L683.3 704.4L685.8 704.5L688.3 704.5L690.8 704.6L693.2 704.7L695.7 704.7L698.2 704.8L700.7 704.9L703.2 704.9L705.7 705L708.2 705.1L710.7 705.2L713.2 705.3L715.7 705.3L718.2 705.4L720.7 705.5L723.2 705.6L725.7 705.7L728.2 705.7L730.7 705.8L733.2 705.9L735.7 706L738.2 706.1L740.7 706.2L743.2 706.3L745.7 706.3L748.2 706.4L750.7 706.5L753.2 706.6L755.7 706.7L758.2 706.8L760.6 706.9L763.1 707L765.6 707.1L768.1 707.2L770.6 707.3L773.1 707.4L775.6 707.5L778.1 707.6L780.6 707.7L783.1 707.8L785.6 707.9L788.1 708L790.6 708.1L793.1 708.2L795.6 708.3L798.1 708.4L800.6 708.5L803.1 708.6L805.6 708.7L808.1 708.8L810.6 708.9L813.1 709L815.6 709.1L818.1 709.2L820.6 709.3L823.1 709.5L825.5 709.6L828 709.7L830.5 709.8L833 709.9L835.5 710L838 710.1L840.5 710.2L843 710.3L845.5 710.4L848 710.6L850.5 710.7L853 710.8L855.5 710.9L858 711L860.5 711.5L863 712L865.5 712.5L868 713.1L870.5 713.7L873 714.3L875.5 714.9L878 715.5L880.6 716.1L883.1 716.6L885.6 717.2L888.1 717.7L890.6 718.1L893.1 718.6L895.6 718.9L898.1 719.3L900.6 719.5L903.1 719.8L905.6 720L908.1 720.1L910.6 720.2L913.1 720.3L915.6 720.3L918.1 720.3L920.7 720.4L923.2 720.3L925.7 720.3L928.2 720.3L930.7 720.3L933.2 720.3L935.7 720.2L938.2 720.2L940.7 720.3L943.2 720.3L945.7 720.3L948.2 720.4L950.7 720.4L953.2 720.5L955.7 720.5L958.2 720.6L960.8 720.6L963.3 720.7L965.8 720.8L968.3 720.8L970.8 720.9L973.3 720.9L975.8 721L978.3 721L980.8 721.1L983.3 721.1L985.8 721.1L988.3 721.1L990.8 721.1L993.3 721L995.8 721L998.3 720.9L1000.9 720.8L1003.4 720.7L1005.9 720.6L1008.4 720.5L1010.9 720.3L1013.4 720.1L1015.9 719.9L1018.4 719.6L1020.8 853.5L1023.3 853.8L1025.8 853.7L1028.3 853.3L1030.8 852.6L1033.3 851.6L1035.8 850.2L1038.3 848.5L1040.8 846.5L1043.3 844.1L1045.8 841.4L1048.3 838.4L1050.8 835L1053.3 831.3L1055.8 827.3L1058.3 823.1L1060.8 818.7L1063.3 814.1L1065.8 809.4L1068.3 804.5L1070.8 799.7L1073.3 794.8L1075.8 789.9L1078.3 785.2L1080.8 780.5L1083.3 775.9L1085.8 771.5L1088.3 767.2L1090.8 763.1L1093.3 759.1L1095.8 755.3L1098.3 751.7L1100.8 748.3L1103.3 745L1105.8 741.9L1108.3 739L1110.8 736.4L1113.3 733.9L1115.8 731.6L1118.3 729.5L1120.8 727.6L1123.3 725.9L1125.8 724.4L1128.3 723L1130.8 721.9L1133.3 720.8L1135.8 720L1138.3 719.2L1140.8 718.6L1143.3 718.1L1145.8 717.7L1148.3 717.4L1150.8 717.2L1153.3 717L1155.8 716.9L1158.3 716.7L1160.8 716.7L1163.3 716.6L1165.8 716.5L1168.3 716.5L1170.8 716.4L1173.3 716.4L1175.8 716.3L1178.3 716.3L1180.8 716.3L1183.3 716.3L1185.9 716.3L1188.4 716.3L1190.9 716.4L1193.4 716.4L1195.9 716.4L1198.4 716.5L1200.9 716.5L1203.4 716.6L1205.9 716.6L1208.4 716.7L1210.9 716.8L1213.4 716.8L1215.9 716.9L1218.4 717L1220.9 717.1L1223.4 717.2L1225.9 717.3L1228.4 717.4L1230.9 717.5L1233.4 717.6L1235.9 717.7L1238.4 717.8L1240.9 717.9L1243.4 718L1245.9 718.1L1248.4 718.3L1250.9 718.4L1253.4 718.5L1255.9 718.6L1258.4 718.7L1260.9 718.9L1263.4 719L1265.9 719.1L1268.4 719.2L1270.9 719.3L1273.4 719.5L1275.9 719.6L1278.4 719.7L1280.9 719.8L1283.4 719.9L1285.9 720L1288.4 720.1L1290.9 720.2L1293.4 720.3L1295.9 720.4L1298.4 720.5L1300.9 720.6L1303.4 720.7L1305.9 720.7L1308.4 720.8L1310.9 720.9L1313.4 721L1315.9 721L1318.4 721.1L1320.9 721.2L1323.4 721.2L1325.9 721.3L1328.4 721.4L1330.9 721.4L1333.4 721.5L1335.9 721.5L1338.4 721.6L1340.9 721.6L1343.4 721.7L1345.9 721.7L1348.4 721.8L1350.9 721.8L1353.4 721.8L1355.9 721.9L1358.4 721.9L1360.9 721.9L1363.4 722L1365.9 722L1368.4 722L1370.9 722L1373.4 722L1375.9 722.1L1378.4 722.1L1380.9 722.1L1383.4 722.1L1385.9 722.1L1388.4 722.1L1390.9 722.1L1393.4 722.1L1395.9 722.1L1398.4 722.1L1400.9 722.1L1403.4 722.1L1405.9 722.1L1408.4 722.1L1410.9 722.1L1413.4 722.1L1415.9 722.1L1418.4 722L1420.9 722L1423.4 722L1425.9 722L1428.4 722L1430.9 721.9L1433.4 721.9L1435.9 721.9L1438.4 721.9L1440.9 721.8L1443.4 721.8L1445.9 721.8L1448.4 721.7L1450.9 721.7L1453.4 721.7L1455.9 721.6L1458.4 721.6L1460.9 721.6L1463.4 721.5L1465.9 721.5L1468.4 721.4L1470.9 721.4L1473.4 721.3L1475.9 721.3L1478.4 721.2L1480.9 721.2L1483.4 721.1L1485.9 721.1L1488.4 721L1490.9 721L1493.4 720.9L1495.9 720.9L1498.4 720.8L1500.9 720.8L1503.4 720.7L1505.9 720.6L1508.4 720.6L1510.9 720.5L1513.5 720.5L1516 720.4L1518.5 720.3L1521 720.3L1523.5 720.2L1526 720.1L1528.5 720.1L1531 720L1533.5 719.9L1536 719.9L1538.5 719.8L1541 719.7L1543.5 719.6L1546 719.6L1548.5 719.5L1551 719.4L1553.5 719.3L1556 719.3L1558.5 719.2L1561 719.1L1563.5 719.1L1566 719L1568.5 718.9L1571 718.8L1573.5 718.7L1576 718.7L1578.5 718.6L1581 718.5L1583.5 718.4L1586 718.4L1588.5 718.3L1591 718.2L1593.5 718.1L1596 718L1598.5 718L1601 717.9L1603.5 717.8L1606 717.7L1608.5 717.7L1611 717.6L1613.5 717.5L1616 717.4L1618.5 717.3L1621 717.3L1623.5 717.2L1626 717.1L1628.5 717L1631 716.9L1633.5 716.9L1636 716.8L1638.5 716.7L1641 716.6L1643.5 716.6L1646 716.5L1648.5 716.4L1651 716.3L1653.5 716.3L1656 716.2L1658.5 716.1L1661 716L1663.5 716L1666 715.9L1668.5 715.8L1671 715.7L1673.5 715.7L1676 715.6L1678.5 715.9L1681 716.1L1683.5 716.3L1685.9 716.4L1688.4 716.6L1690.9 716.7L1693.4 716.8L1695.9 716.8L1698.4 716.8L1700.8 716.9L1703.3 716.8L1705.8 716.8L1708.3 716.7L1710.8 716.7L1713.3 716.6L1715.8 716.5L1718.2 716.3L1720.7 716.2L1723.2 716.1L1725.7 715.9L1728.2 715.8L1730.7 715.6L1733.2 715.5L1735.6 715.4L1738.1 715.3L1740.6 715.2L1743.1 715.1L1745.6 715L1748.1 714.9L1750.5 714.8L1753 714.7L1755.5 714.6L1758 714.6L1760.5 714.5L1763 714.4L1765.5 714.3L1767.9 714.1L1770.4 714L1772.9 713.9L1775.4 713.7L1777.9 713.5L1780.4 713.3L1782.8 713.1L1785.3 712.9L1787.8 712.7L1790.3 712.4L1792.8 712.1L1795.3 711.8L1797.8 711.4L1800.2 711.1L1802.7 710.8L1805.2 710.4L1807.7 710.1L1810.2 709.7L1812.7 709.3L1815.2 709L1817.6 708.7L1820.1 708.3L1822.6 708L1825.1 707.8L1827.6 707.5L1830.1 707.2L1832.5 707L1835 706.9L1837.5 706.7L1840 706.6"/>
<text transform="translate(94.15 603) scale(0.96 1)" font-size="76.4">20</text>
<text transform="translate(127.12 741.7) scale(0.96 1)" font-size="76.4">0</text>
<text transform="translate(68.93 881.1) scale(0.96 1)" font-size="76.4">-20</text>
<text class="it" transform="translate(74.2 755.2) rotate(-90)" font-size="84.3">C</text>
<text class="it" transform="translate(101.2 700.4) rotate(-90)" font-size="50">D</text>
</g>
<g>
<path d="M192.03 1000.1H205.83V1359.7H192.03ZM192.03 1346.9H1845.8V1359.7H192.03ZM198.93 1000.1H221.9V1012.9H198.93ZM198.93 1173.55H221.9V1186.35H198.93ZM520.23 1330H534.03V1353.3H520.23ZM848.44 1330H862.24V1353.3H848.44ZM1176.64 1330H1190.44V1353.3H1176.64ZM1504.85 1330H1518.65V1353.3H1504.85ZM1833.05 1330H1845.8V1353.3H1833.05Z" fill="#231815"/>
<path class="c" stroke="#0000ff" d="M199 1310L201.5 1308.6L204 1306.4L206.5 1303.5L209 1300L211.5 1295.8L214 1291.1L216.4 1285.9L218.9 1280.2L221.4 1274.2L223.9 1267.9L226.4 1261.3L228.9 1254.5L231.4 1247.5L233.9 1240.5L236.4 1233.3L238.9 1226.1L241.4 1218.9L243.9 1211.7L246.4 1204.5L248.9 1197.4L251.3 1190.4L253.8 1183.5L256.3 1176.7L258.8 1170.1L261.3 1163.8L263.8 1157.7L266.3 1151.8L268.8 1146.3L271.3 1141.1L273.8 1136.3L276.3 1131.9L278.8 1127.7L281.3 1124L283.8 1120.5L286.2 1117.4L288.7 1114.7L291.2 1112.3L293.7 1110.2L296.2 1108.4L298.7 1106.9L301.2 1105.8L303.7 1105L306.2 1104.6L308.7 1104.4L311.2 1104.6L313.7 1105.1L316.2 1105.9L318.7 1107.1L321.1 1108.5L323.6 1110.3L326.1 1112.4L328.6 1114.9L331.1 1117.6L333.6 1120.6L336.1 1124L338.6 1127.7L341.1 1131.7L343.6 1136L346.1 1140.6L348.6 1145.4L351.1 1150.4L353.6 1155.7L356 1161.1L358.5 1166.7L361 1172.3L363.5 1177.8L366 1182.6L368.5 1186.1L371 1187.6L373.5 1188L376 1188.3L378.5 1188.7L381 1189L383.5 1189.4L386 1189.7L388.5 1190.1L391 1190.4L393.5 1190.8L396 1191.1L398.5 1191.5L401 1191.8L403.5 1192.1L406 1192.5L408.5 1192.8L411 1193.1L413.5 1193.4L416 1193.7L418.5 1194.1L421.1 1194.4L423.6 1194.7L426.1 1195L428.6 1195.3L431.1 1195.6L433.6 1195.9L436.1 1196.2L438.6 1196.5L441.1 1196.8L443.6 1197L446.1 1197.3L448.6 1197.6L451.1 1197.9L453.6 1198.1L456.1 1198.4L458.6 1198.7L461.1 1198.9L463.6 1199.2L466.1 1199.4L468.6 1199.7L471.1 1199.9L473.6 1200.2L476.1 1200.4L478.6 1200.6L481.1 1200.9L483.6 1201.1L486.1 1201.3L488.6 1201.5L491.1 1201.8L493.6 1202L496.1 1202.2L498.6 1202.4L501.1 1202.6L503.6 1202.8L506.1 1203L508.6 1203.2L511.1 1203.3L513.6 1203.5L516.1 1203.7L518.7 1203.9L521.2 1204L523.7 1204.2L526.2 1204.4L528.7 1204.5L531.2 1204.7L533.7 1204.8L536.2 1204.9L538.7 1205.1L541.2 1205.2L543.7 1205.3L546.2 1205.5L548.7 1205.6L551.2 1205.7L553.7 1205.8L556.2 1205.9L558.7 1206L561.2 1206.1L563.7 1206.2L566.2 1206.3L568.7 1206.4L571.2 1206.5L573.7 1206.5L576.2 1206.6L578.7 1206.7L581.2 1206.7L583.7 1206.8L586.2 1206.8L588.7 1206.9L591.2 1206.9L593.7 1206.9L596.2 1207L598.7 1207L601.2 1207L603.7 1207L606.2 1207L608.7 1207L611.2 1207L613.7 1207L616.3 1207L618.8 1207L621.3 1207L623.8 1207L626.3 1206.9L628.8 1206.9L631.3 1206.8L633.8 1206.8L636.3 1206.7L638.8 1206.7L641.3 1206.6L643.8 1206.5L646.3 1206.5L648.8 1206.4L651.3 1206.3L653.8 1206.2L656.3 1206.1L658.8 1206L661.3 1205.9L663.8 1205.8L666.3 1205.6L668.8 1205.5L671.3 1205.4L673.8 1205.2L676.3 1205.1L678.8 1204.9L681.3 1204.8L683.8 1204.6L686.3 1204.4L688.8 1204.2L691.3 1204.1L693.8 1203.9L696.3 1203.7L698.8 1203.5L701.3 1203.3L703.8 1203.1L706.3 1202.9L708.8 1202.7L711.3 1202.4L713.9 1202.2L716.4 1202L718.9 1201.8L721.4 1201.5L723.9 1201.3L726.4 1201L728.9 1200.8L731.4 1200.6L733.9 1200.3L736.4 1200.1L738.9 1199.8L741.4 1199.5L743.9 1199.3L746.4 1199L748.9 1198.8L751.4 1198.5L753.9 1198.3L756.4 1198L758.9 1197.7L761.4 1197.5L763.9 1197.2L766.4 1196.9L768.9 1196.7L771.4 1196.4L773.9 1196.2L776.4 1195.9L778.9 1195.6L781.4 1195.4L783.9 1195.1L786.4 1194.9L788.9 1194.6L791.4 1194.4L793.9 1194.1L796.4 1193.9L798.9 1193.6L801.4 1193.4L803.9 1193.2L806.4 1192.9L808.9 1192.7L811.5 1192.5L814 1192.2L816.5 1192L819 1191.8L821.5 1191.6L824 1191.4L826.5 1191.2L829 1191L831.5 1190.8L834 1190.6L836.5 1190.4L839 1190.2L841.5 1190L844 1189.9L846.5 1189.7L849 1189.6L851.5 1189.4L854 1189.3L856.5 1189.1L859 1189L861.5 1184.2L864 1179.7L866.5 1175.4L869 1171.3L871.5 1167.4L874 1163.8L876.5 1160.3L879 1157L881.5 1153.8L884 1150.8L886.5 1148L889 1145.2L891.5 1142.5L894.1 1139.9L896.6 1137.4L899.1 1135L901.6 1132.5L904.1 1130.1L906.6 1127.8L909.1 1125.4L911.6 1123L914.1 1120.5L916.6 1118.1L919.1 1115.5L921.6 1112.9L924.1 1110.2L926.6 1107.4L929.1 1104.6L931.6 1101.6L934.1 1098.6L936.6 1095.6L939.1 1092.5L941.6 1089.4L944.1 1086.2L946.6 1083.1L949.1 1079.9L951.6 1076.7L954.1 1073.5L956.6 1070.3L959.2 1067.2L961.7 1064.1L964.2 1061L966.7 1057.9L969.2 1054.9L971.7 1052L974.2 1049.2L976.7 1046.5L979.2 1043.9L981.7 1041.5L984.2 1039.2L986.7 1037.1L989.2 1035.2L991.7 1033.5L994.2 1032.1L996.7 1030.9L999.2 1029.9L1001.7 1029.3L1004.2 1028.9L1006.7 1028.9L1009.2 1029.1L1011.7 1029.8L1014.2 1030.7L1016.7 1032L1019.2 1033.6L1021.7 1035.6L1024.2 1037.9L1026.8 1040.6L1029.3 1043.6L1031.8 1047L1034.3 1050.7L1036.8 1054.8L1039.3 1059.3L1041.8 1064.1L1044.3 1069.4L1046.8 1074.9L1049.3 1080.9L1051.8 1087.2L1054.3 1093.8L1056.8 1100.7L1059.3 1107.9L1061.8 1115.4L1064.3 1123.1L1066.8 1131L1069.3 1139.1L1071.8 1147.3L1074.3 1155.5L1076.8 1163.6L1079.3 1171.6L1081.8 1179.4L1084.3 1186.8L1086.8 1194L1089.3 1200.8L1091.8 1207.2L1094.4 1213.2L1096.9 1218.9L1099.4 1224.2L1101.9 1229.2L1104.4 1233.7L1106.9 1237.8L1109.4 1241.6L1111.9 1244.9L1114.4 1247.8L1116.9 1250.3L1119.4 1252.4L1121.9 1254.1L1124.4 1255.3L1126.9 1256.1L1129.4 1256.5L1131.9 1256.5L1134.4 1256.1L1136.9 1255.4L1139.4 1254.4L1141.9 1253L1144.4 1251.3L1146.9 1249.4L1149.4 1247.2L1151.9 1244.6L1154.4 1241.6L1156.9 1238.3L1159.5 1234.4L1162 1230.1L1164.5 1225.3L1167 1220L1169.5 1214.3L1172 1208.4L1174.5 1202.3L1177 1196.3L1179.5 1190.4L1182 1184.8L1184.5 1179.6L1187 1175.2L1189.5 1172.2L1192 1171.6L1194.5 1171.3L1197 1170.9L1199.5 1170.6L1202 1170.2L1204.5 1169.9L1207 1169.6L1209.5 1169.2L1212 1168.9L1214.5 1168.6L1217.1 1168.2L1219.6 1167.9L1222.1 1167.6L1224.6 1167.3L1227.1 1166.9L1229.6 1166.6L1232.1 1166.3L1234.6 1166L1237.1 1165.7L1239.6 1165.4L1242.1 1165.1L1244.6 1164.8L1247.1 1164.5L1249.6 1164.2L1252.1 1163.9L1254.6 1163.6L1257.1 1163.3L1259.6 1163L1262.1 1162.7L1264.6 1162.4L1267.2 1162.1L1269.7 1161.9L1272.2 1161.6L1274.7 1161.3L1277.2 1161.1L1279.7 1160.8L1282.2 1160.5L1284.7 1160.3L1287.2 1160L1289.7 1159.8L1292.2 1159.5L1294.7 1159.3L1297.2 1159L1299.7 1158.8L1302.2 1158.5L1304.7 1158.3L1307.2 1158.1L1309.7 1157.8L1312.2 1157.6L1314.8 1157.4L1317.3 1157.2L1319.8 1157L1322.3 1156.8L1324.8 1156.6L1327.3 1156.3L1329.8 1156.1L1332.3 1156L1334.8 1155.8L1337.3 1155.6L1339.8 1155.4L1342.3 1155.2L1344.8 1155L1347.3 1154.9L1349.8 1154.7L1352.3 1154.5L1354.8 1154.4L1357.3 1154.2L1359.8 1154.1L1362.4 1153.9L1364.9 1153.8L1367.4 1153.6L1369.9 1153.5L1372.4 1153.4L1374.9 1153.3L1377.4 1153.1L1379.9 1153L1382.4 1152.9L1384.9 1152.8L1387.4 1152.7L1389.9 1152.6L1392.4 1152.5L1394.9 1152.4L1397.4 1152.4L1399.9 1152.3L1402.4 1152.2L1404.9 1152.1L1407.4 1152.1L1409.9 1152L1412.5 1152L1415 1151.9L1417.5 1151.9L1420 1151.8L1422.5 1151.8L1425 1151.8L1427.5 1151.8L1430 1151.7L1432.5 1151.7L1435 1151.7L1437.5 1151.7L1440 1151.7L1442.5 1151.7L1445 1151.8L1447.5 1151.8L1450 1151.8L1452.5 1151.8L1455 1151.9L1457.5 1151.9L1460.1 1152L1462.6 1152L1465.1 1152.1L1467.6 1152.2L1470.1 1152.2L1472.6 1152.3L1475.1 1152.4L1477.6 1152.5L1480.1 1152.6L1482.6 1152.7L1485.1 1152.8L1487.6 1152.9L1490.1 1153.1L1492.6 1153.2L1495.1 1153.3L1497.6 1153.5L1500.1 1153.6L1502.6 1153.8L1505.1 1153.9L1507.6 1154.1L1510.2 1154.3L1512.7 1154.4L1515.2 1154.6L1517.7 1154.8L1520.2 1155L1522.7 1155.2L1525.2 1155.4L1527.7 1155.6L1530.2 1155.8L1532.7 1156L1535.2 1156.2L1537.7 1156.4L1540.2 1156.6L1542.7 1156.8L1545.2 1157.1L1547.7 1157.3L1550.2 1157.5L1552.7 1157.8L1555.2 1158L1557.8 1158.2L1560.3 1158.5L1562.8 1158.7L1565.3 1159L1567.8 1159.2L1570.3 1159.5L1572.8 1159.7L1575.3 1160L1577.8 1160.2L1580.3 1160.5L1582.8 1160.7L1585.3 1161L1587.8 1161.2L1590.3 1161.5L1592.8 1161.8L1595.3 1162L1597.8 1162.3L1600.3 1162.5L1602.8 1162.8L1605.4 1163.1L1607.9 1163.3L1610.4 1163.6L1612.9 1163.8L1615.4 1164.1L1617.9 1164.4L1620.4 1164.6L1622.9 1164.9L1625.4 1165.1L1627.9 1165.4L1630.4 1165.6L1632.9 1165.9L1635.4 1166.1L1637.9 1166.4L1640.4 1166.6L1642.9 1166.9L1645.4 1167.1L1647.9 1167.4L1650.4 1167.6L1652.9 1167.8L1655.5 1168.1L1658 1168.3L1660.5 1168.5L1663 1168.7L1665.5 1169L1668 1169.2L1670.5 1169.4L1673 1169.6L1675.5 1169.8L1678 1170L1680.5 1172.9L1683 1176.3L1685.5 1179.9L1688 1183.6L1690.5 1187.5L1693 1191.3L1695.4 1195.1L1697.9 1198.6L1700.4 1202L1702.9 1205.1L1705.4 1208.2L1707.9 1211.1L1710.4 1214L1712.9 1216.8L1715.4 1219.5L1717.9 1222.2L1720.4 1224.8L1722.9 1227.4L1725.4 1229.9L1727.8 1232.4L1730.3 1234.9L1732.8 1237.4L1735.3 1239.8L1737.8 1242.3L1740.3 1244.7L1742.8 1247.2L1745.3 1249.6L1747.8 1252.1L1750.3 1254.6L1752.8 1257.1L1755.3 1259.7L1757.8 1262.3L1760.2 1264.9L1762.7 1267.7L1765.2 1270.4L1767.7 1273.2L1770.2 1276.1L1772.7 1279.1L1775.2 1282.1L1777.7 1285.1L1780.2 1288.1L1782.7 1291.2L1785.2 1294.2L1787.7 1297.2L1790.2 1300.1L1792.6 1303L1795.1 1305.8L1797.6 1308.5L1800.1 1311.1L1802.6 1313.5L1805.1 1315.8L1807.6 1318L1810.1 1320L1812.6 1321.8L1815.1 1323.4L1817.6 1324.8L1820.1 1325.9L1822.6 1326.8L1825 1327.5L1827.5 1327.9L1830 1327.9L1832.5 1327.7L1835 1327.1L1837.5 1326.3L1840 1325"/>
<path class="c" stroke="#ff0000" d="M199 1309.4L201.5 1309.8L204 1309.9L206.5 1309.6L208.9 1309.1L211.4 1308.3L213.9 1307.3L216.4 1305.9L218.9 1304.4L221.4 1302.6L223.9 1300.6L226.3 1298.4L228.8 1296L231.3 1293.5L233.8 1290.8L236.3 1287.9L238.8 1284.9L241.2 1281.8L243.7 1278.5L246.2 1275.2L248.7 1271.8L251.2 1268.3L253.7 1264.7L256.2 1261.1L258.6 1257.5L261.1 1253.9L263.6 1250.2L266.1 1246.5L268.6 1242.9L271.1 1239.3L273.6 1235.7L276 1232.2L278.5 1228.8L281 1225.4L283.5 1222.2L286 1219L288.5 1216L291 1213.1L293.4 1210.3L295.9 1207.7L298.4 1205.2L300.9 1202.9L303.4 1200.7L305.9 1198.7L308.4 1196.8L310.8 1195L313.3 1193.4L315.8 1191.9L318.3 1190.6L320.8 1189.4L323.3 1188.4L325.8 1187.5L328.2 1186.8L330.7 1186.2L333.2 1185.7L335.7 1185.4L338.2 1185.2L340.7 1185.1L343.1 1185.2L345.6 1185.3L348.1 1185.5L350.6 1185.9L353.1 1186.2L355.6 1186.7L358.1 1187.2L360.5 1187.7L363 1188.3L365.5 1189L368 1189.6L370.5 1189.9L373 1190.3L375.5 1190.6L378 1191L380.5 1191.3L383 1191.7L385.5 1192L388 1192.3L390.5 1192.7L393 1193L395.5 1193.3L398 1193.6L400.5 1194L403 1194.3L405.5 1194.6L408 1194.9L410.5 1195.2L413 1195.5L415.5 1195.8L418 1196.1L420.5 1196.4L423 1196.7L425.5 1197L428 1197.3L430.5 1197.6L433 1197.9L435.5 1198.2L438 1198.5L440.5 1198.8L443 1199L445.5 1199.3L448 1199.6L450.5 1199.8L453 1200.1L455.5 1200.4L458 1200.6L460.5 1200.9L463 1201.1L465.5 1201.4L468 1201.6L470.5 1201.9L473 1202.1L475.5 1202.3L478 1202.6L480.5 1202.8L483 1203L485.5 1203.2L488 1203.5L490.5 1203.7L493 1203.9L495.5 1204.1L498 1204.3L500.5 1204.5L503 1204.7L505.5 1204.9L508 1205.1L510.5 1205.2L513 1205.4L515.5 1205.6L518 1205.8L520.5 1205.9L523 1206.1L525.5 1206.3L528 1206.4L530.5 1206.6L533 1206.7L535.5 1206.9L538 1207L540.5 1207.1L543 1207.3L545.5 1207.4L548 1207.5L550.5 1207.6L553 1207.7L555.5 1207.8L558 1207.9L560.5 1208L563 1208.1L565.5 1208.2L568 1208.3L570.5 1208.4L573 1208.5L575.5 1208.5L578 1208.6L580.5 1208.7L583 1208.7L585.5 1208.8L588 1208.8L590.5 1208.9L593 1208.9L595.5 1208.9L598 1209L600.5 1209L603 1209L605.5 1209L608 1209L610.5 1209L613 1209L615.5 1209L618 1209L620.5 1209L623 1209L625.5 1208.9L628 1208.9L630.5 1208.8L633 1208.8L635.5 1208.8L638 1208.7L640.5 1208.6L643 1208.6L645.5 1208.5L648 1208.4L650.5 1208.3L653 1208.2L655.5 1208.1L658 1208L660.5 1207.9L663 1207.8L665.5 1207.7L668 1207.6L670.5 1207.4L673 1207.3L675.5 1207.2L678 1207L680.5 1206.8L683 1206.7L685.5 1206.5L688 1206.3L690.5 1206.2L693 1206L695.5 1205.8L698 1205.6L700.5 1205.4L703 1205.2L705.5 1205L708 1204.8L710.5 1204.5L713 1204.3L715.5 1204.1L718 1203.9L720.5 1203.6L723 1203.4L725.5 1203.2L728 1202.9L730.5 1202.7L733 1202.4L735.5 1202.2L738 1201.9L740.5 1201.7L743 1201.4L745.5 1201.1L748 1200.9L750.5 1200.6L753 1200.4L755.5 1200.1L758 1199.8L760.5 1199.6L763 1199.3L765.5 1199.1L768 1198.8L770.5 1198.5L773 1198.3L775.5 1198L778 1197.7L780.5 1197.5L783 1197.2L785.5 1197L788 1196.7L790.5 1196.5L793 1196.2L795.5 1196L798 1195.7L800.5 1195.5L803 1195.2L805.5 1195L808 1194.8L810.5 1194.5L813 1194.3L815.5 1194.1L818 1193.8L820.5 1193.6L823 1193.4L825.5 1193.2L828 1193L830.5 1192.8L833 1192.6L835.5 1192.4L838 1192.2L840.5 1192.1L843 1191.9L845.5 1191.7L848 1191.6L850.5 1191.4L853 1191.3L855.5 1191.1L858 1191L860.5 1190.8L863 1190.7L865.5 1190.7L868 1190.7L870.5 1190.7L873 1190.8L875.6 1190.9L878.1 1191.1L880.6 1191.3L883.1 1191.4L885.6 1191.6L888.1 1191.8L890.6 1192L893.1 1192.1L895.6 1192.3L898.1 1192.4L900.6 1192.4L903.1 1192.5L905.6 1192.5L908.2 1192.4L910.7 1192.2L913.2 1191.9L915.7 1191.5L918.2 1191L920.7 1190.3L923.2 1189.5L925.7 1188.4L928.2 1187.2L930.7 1185.7L933.2 1184.1L935.7 1182.2L938.2 1180.1L940.8 1177.8L943.3 1175.2L945.8 1172.3L948.3 1169.3L950.8 1165.9L953.3 1162.3L955.8 1158.3L958.3 1154.2L960.8 1149.8L963.3 1145.2L965.8 1140.4L968.3 1135.5L970.8 1130.4L973.4 1125.3L975.9 1120.2L978.4 1115L980.9 1109.9L983.4 1104.8L985.9 1099.8L988.4 1094.9L990.9 1090.1L993.4 1085.5L995.9 1081.2L998.4 1077L1000.9 1073.2L1003.4 1069.6L1006 1066.3L1008.5 1063.4L1011 1060.8L1013.5 1058.7L1016 1057L1018.5 1055.8L1021 1055L1022 1049.5L1024.5 1048.4L1027 1047.7L1029.5 1047.2L1032 1047L1034.5 1047L1037 1047.3L1039.6 1047.8L1042.1 1048.6L1044.6 1049.6L1047.1 1050.8L1049.6 1052.2L1052.1 1053.7L1054.6 1055.5L1057.1 1057.4L1059.6 1059.5L1062.1 1061.8L1064.6 1064.2L1067.1 1066.7L1069.6 1069.3L1072.1 1072.1L1074.7 1075L1077.2 1077.9L1079.7 1081L1082.2 1084.1L1084.7 1087.2L1087.2 1090.4L1089.7 1093.7L1092.2 1096.9L1094.7 1100.2L1097.2 1103.5L1099.7 1106.7L1102.2 1110L1104.7 1113.1L1107.3 1116.3L1109.8 1119.3L1112.3 1122.3L1114.8 1125.2L1117.3 1128.1L1119.8 1130.8L1122.3 1133.4L1124.8 1135.9L1127.3 1138.4L1129.8 1140.7L1132.3 1143L1134.8 1145.1L1137.3 1147.2L1139.9 1149.2L1142.4 1151.1L1144.9 1152.9L1147.4 1154.6L1149.9 1156.2L1152.4 1157.7L1154.9 1159.1L1157.4 1160.5L1159.9 1161.7L1162.4 1162.9L1164.9 1164L1167.4 1165L1169.9 1165.9L1172.4 1166.7L1175 1167.4L1177.5 1168.1L1180 1168.6L1182.5 1169.1L1185 1169.5L1187.5 1169.8L1190 1170L1192.5 1169.7L1195 1169.3L1197.5 1169L1200 1168.7L1202.5 1168.4L1205 1168L1207.5 1167.7L1210 1167.4L1212.5 1167.1L1215 1166.7L1217.5 1166.4L1220 1166.1L1222.5 1165.8L1225 1165.5L1227.5 1165.2L1230 1164.9L1232.5 1164.6L1235 1164.3L1237.5 1164L1240 1163.7L1242.5 1163.4L1245 1163.1L1247.5 1162.8L1250 1162.5L1252.5 1162.2L1255 1161.9L1257.5 1161.6L1260 1161.3L1262.5 1161.1L1265 1160.8L1267.5 1160.5L1270 1160.2L1272.5 1160L1275 1159.7L1277.5 1159.4L1280 1159.2L1282.5 1158.9L1285 1158.7L1287.5 1158.4L1290 1158.2L1292.5 1157.9L1295 1157.7L1297.5 1157.4L1300 1157.2L1302.5 1156.9L1305 1156.7L1307.5 1156.5L1310 1156.3L1312.5 1156L1315 1155.8L1317.5 1155.6L1320 1155.4L1322.5 1155.2L1325 1155L1327.5 1154.8L1330 1154.6L1332.5 1154.4L1335 1154.2L1337.5 1154L1340 1153.8L1342.5 1153.6L1345 1153.5L1347.5 1153.3L1350 1153.1L1352.5 1153L1355 1152.8L1357.5 1152.7L1360 1152.5L1362.5 1152.4L1365 1152.2L1367.5 1152.1L1370 1151.9L1372.5 1151.8L1375 1151.7L1377.5 1151.6L1380 1151.4L1382.5 1151.3L1385 1151.2L1387.5 1151.1L1390 1151L1392.5 1150.9L1395 1150.8L1397.5 1150.8L1400 1150.7L1402.5 1150.6L1405 1150.5L1407.5 1150.5L1410 1150.4L1412.5 1150.4L1415 1150.3L1417.5 1150.3L1420 1150.2L1422.5 1150.2L1425 1150.2L1427.5 1150.1L1430 1150.1L1432.5 1150.1L1435 1150.1L1437.5 1150.1L1440 1150.1L1442.5 1150.1L1445 1150.1L1447.5 1150.2L1450 1150.2L1452.5 1150.2L1455 1150.3L1457.5 1150.3L1460 1150.3L1462.5 1150.4L1465 1150.5L1467.5 1150.5L1470 1150.6L1472.5 1150.7L1475 1150.8L1477.5 1150.9L1480 1151L1482.5 1151.1L1485 1151.2L1487.5 1151.3L1490 1151.4L1492.5 1151.6L1495 1151.7L1497.5 1151.8L1500 1152L1502.5 1152.1L1505 1152.3L1507.5 1152.5L1510 1152.6L1512.5 1152.8L1515 1153L1517.5 1153.2L1520 1153.3L1522.5 1153.5L1525 1153.7L1527.5 1153.9L1530 1154.1L1532.5 1154.4L1535 1154.6L1537.5 1154.8L1540 1155L1542.5 1155.2L1545 1155.5L1547.5 1155.7L1550 1155.9L1552.5 1156.2L1555 1156.4L1557.5 1156.6L1560 1156.9L1562.5 1157.1L1565 1157.4L1567.5 1157.6L1570 1157.9L1572.5 1158.1L1575 1158.4L1577.5 1158.6L1580 1158.9L1582.5 1159.1L1585 1159.4L1587.5 1159.6L1590 1159.9L1592.5 1160.2L1595 1160.4L1597.5 1160.7L1600 1160.9L1602.5 1161.2L1605 1161.5L1607.5 1161.7L1610 1162L1612.5 1162.2L1615 1162.5L1617.5 1162.7L1620 1163L1622.5 1163.3L1625 1163.5L1627.5 1163.8L1630 1164L1632.5 1164.3L1635 1164.5L1637.5 1164.7L1640 1165L1642.5 1165.2L1645 1165.5L1647.5 1165.7L1650 1165.9L1652.5 1166.1L1655 1166.4L1657.5 1166.6L1660 1166.8L1662.5 1167L1665 1167.2L1667.5 1167.4L1670 1167.6L1672.5 1167.8L1675 1168L1677.5 1168.2L1680 1168.4L1682.5 1168.6L1685 1169.2L1687.5 1170.2L1690 1171.4L1692.5 1172.9L1695 1174.6L1697.5 1176.5L1700 1178.4L1702.5 1180.4L1705 1182.4L1707.5 1184.4L1710 1186.2L1712.5 1187.9L1715 1189.4L1717.5 1190.6L1720 1191.6L1722.5 1192.3L1725 1192.6L1727.5 1192.6L1730 1192.4L1732.5 1192L1735 1191.5L1737.5 1191.1L1740 1190.8L1742.5 1190.5L1745 1190.4L1747.5 1190.4L1750 1190.6L1752.5 1191L1755 1191.6L1757.5 1192.5L1760 1193.6L1762.5 1195.1L1765 1196.8L1767.5 1198.9L1770 1201.3L1772.5 1204L1775 1207.1L1777.5 1210.5L1780 1214.1L1782.5 1217.9L1785 1222L1787.5 1226.1L1790 1230.5L1792.5 1234.9L1795 1239.4L1797.5 1243.9L1800 1248.5L1802.5 1253L1805 1257.5L1807.5 1261.9L1810 1266.2L1812.5 1270.4L1815 1274.4L1817.5 1278.2L1820 1281.8L1822.5 1285.2L1825 1288.2L1827.5 1291L1830 1293.4L1832.5 1295.4L1835 1297.1L1837.5 1298.3L1840 1299"/>
<text transform="translate(94.15 1035.5) scale(0.96 1)" font-size="76.4">10</text>
<text transform="translate(127.12 1210) scale(0.96 1)" font-size="76.4">0</text>
<text transform="translate(68.93 1382.9) scale(0.96 1)" font-size="76.4">-10</text>
<text class="it" transform="translate(74.2 1229.5) rotate(-90)" font-size="84.3">C</text>
<text class="it" transform="translate(101.2 1177.5) rotate(-90)" font-size="50">M</text>
</g>
<text transform="translate(172.94 1434.3) scale(0.967 1)" font-size="83.2">0</text>
<text transform="translate(472.76 1434.3) scale(0.991 1)" font-size="83.2">0.2</text>
<text transform="translate(801.99 1434.3) scale(0.951 1)" font-size="83.2">0.4</text>
<text transform="translate(1132.98 1434.3) scale(0.953 1)" font-size="83.2">0.6</text>
<text transform="translate(1459.94 1434.3) scale(0.967 1)" font-size="83.2">0.8</text>
<text transform="translate(1795.31 1434.3) scale(0.956 1)" font-size="83.2">1.0</text>
<text class="it" transform="translate(983.17 1508.2) scale(1.023 1)" font-size="83">t/T</text>
<path d="M1600 36.6H1760V46H1600Z" fill="#ff0000"/>
<path d="M1604 150H1756V159.1H1604Z" fill="#0000ff"/>
<text transform="translate(1767.9 70) scale(0.998 1)" font-size="83">QS</text>
<text transform="translate(1765.86 186.3) scale(1.019 1)" font-size="83">NS</text>
</svg>
</body></html>
